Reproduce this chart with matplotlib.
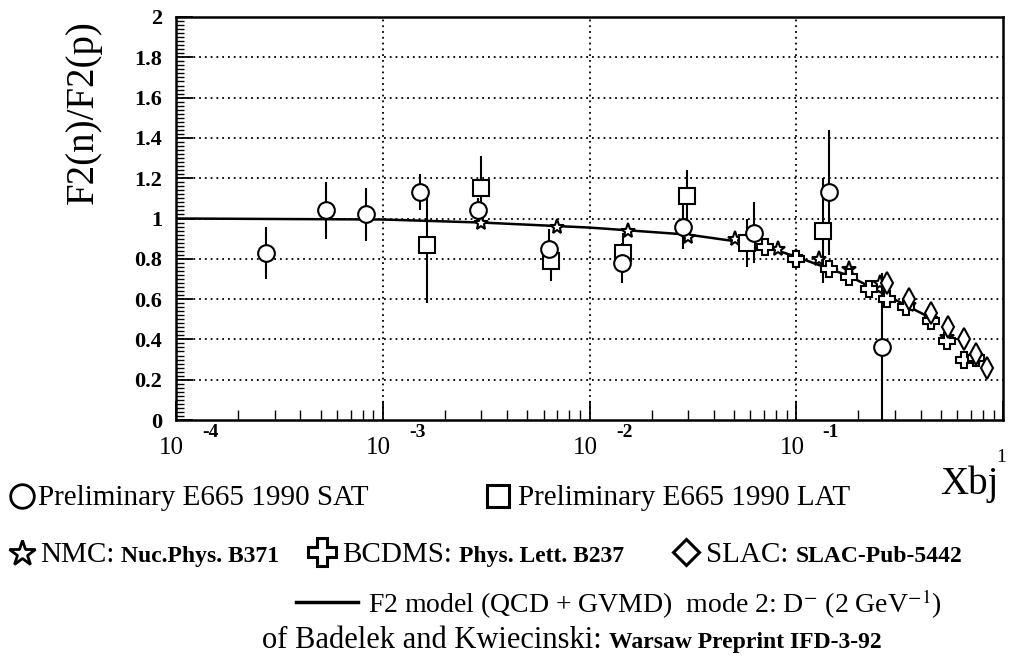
import numpy as np
import matplotlib
matplotlib.use("Agg")
import matplotlib.pyplot as plt
from matplotlib.ticker import FixedLocator, NullFormatter

plt.rcParams['font.family'] = ['Liberation Serif', 'DejaVu Serif']
plt.rcParams['mathtext.fontset'] = 'stix'

# ---------------- data ----------------
sat_x = [2.72e-4, 5.3e-4, 8.3e-4, 1.51e-3, 2.88e-3, 6.4e-3, 1.43e-2, 2.84e-2, 6.26e-2, 0.144, 0.26]
sat_y = [0.83, 1.04, 1.02, 1.13, 1.04, 0.85, 0.78, 0.96, 0.93, 1.13, 0.36]
sat_err = [0.13, 0.14, 0.13, 0.09, 0.06, 0.10, 0.10, 0.11, 0.15, 0.31, 0.37]

lat_x = [1.63e-3, 3.0e-3, 6.5e-3, 1.46e-2, 2.97e-2, 5.8e-2, 0.134]
lat_y = [0.87, 1.15, 0.79, 0.83, 1.11, 0.88, 0.94]
lat_err = [0.29, 0.16, 0.10, 0.10, 0.13, 0.12, 0.26]

nmc_x = [3.0e-3, 7.0e-3, 1.53e-2, 3.0e-2, 5.07e-2, 8.2e-2, 0.1, 0.129, 0.18, 0.255, 0.35, 0.45, 0.536, 0.74]
nmc_y = [0.98, 0.96, 0.94, 0.91, 0.90, 0.85, 0.81, 0.80, 0.75, 0.68, 0.57, 0.50, 0.41, 0.32]

bcdms_x = [0.0707, 0.1, 0.144, 0.18, 0.225, 0.276, 0.34, 0.45, 0.536, 0.65, 0.74]
bcdms_y = [0.86, 0.80, 0.75, 0.71, 0.65, 0.60, 0.56, 0.49, 0.39, 0.30, 0.31]

slac_x = [0.276, 0.35, 0.45, 0.54, 0.65, 0.74, 0.84]
slac_y = [0.68, 0.60, 0.53, 0.46, 0.40, 0.33, 0.26]

model_x = [1e-4, 1e-3, 3e-3, 1e-2, 3e-2, 0.0666, 0.1, 0.18, 0.26, 0.44]
model_y = [1.00, 0.995, 0.98, 0.955, 0.92, 0.87, 0.81, 0.715, 0.63, 0.51]

xtick_exps = ['-4', '-3', '-2', '-1']
xtick_vals = [1e-4, 1e-3, 1e-2, 1e-1]
yticks = [0, 0.2, 0.4, 0.6, 0.8, 1, 1.2, 1.4, 1.6, 1.8, 2]
ytick_labels = ['0', '0.2', '0.4', '0.6', '0.8', '1', '1.2', '1.4', '1.6', '1.8', '2']

# ---------------- figure ----------------
W, H = 1009, 662
fig = plt.figure(figsize=(W / 100, H / 100), dpi=100)
L, R, T, B = 176, 1003, 17, 420
ax = fig.add_axes([L / W, 1 - B / H, (R - L) / W, (B - T) / H])
ax.set_xscale('log')
ax.set_xlim(1e-4, 1)
ax.set_ylim(0, 2)

for s in ax.spines.values():
    s.set_linewidth(1.8)

# grid
grid_kw = dict(color='black', lw=1.3, ls=(0, (1, 2.2)), zorder=1)
for yv in yticks[1:-1]:
    ax.axhline(yv, **grid_kw)
for xv in [1e-3, 1e-2, 1e-1]:
    ax.axvline(xv, **grid_kw)

# ticks
ax.yaxis.set_major_locator(FixedLocator(yticks))
ax.set_yticklabels(ytick_labels, fontsize=16, fontweight='bold')
ax.yaxis.set_minor_locator(FixedLocator(np.arange(0, 2.001, 0.02)))
ax.tick_params(axis='y', which='major', direction='in', length=12, width=1.3, pad=10)
ax.tick_params(axis='y', which='minor', direction='in', length=6, width=1.0)
ax.xaxis.set_major_locator(FixedLocator(xtick_vals + [1]))
ax.xaxis.set_major_formatter(NullFormatter())
ax.xaxis.set_minor_formatter(NullFormatter())
minor = [m * 10.0 ** e for e in range(-4, 0) for m in range(2, 10)]
ax.xaxis.set_minor_locator(FixedLocator(minor))
ax.tick_params(axis='x', which='major', direction='in', length=14, width=1.3)
ax.tick_params(axis='x', which='minor', direction='in', length=7, width=1.0)
ax.tick_params(top=False, right=False)

# x tick labels "10" with exponent
xt = ax.get_xaxis_transform()
for xv, ex in zip(xtick_vals, xtick_exps):
    ax.annotate('10', (xv, 0), xycoords=xt, xytext=(-3, -20), textcoords='offset points',
                ha='center', va='center', fontsize=18, annotation_clip=False)
    ax.annotate(ex, (xv, 0), xycoords=xt, xytext=(19, -9), textcoords='offset points',
                ha='left', va='center', fontsize=14, fontweight='bold', annotation_clip=False)

# model
ax.plot(model_x, model_y, color='black', lw=1.8, zorder=3)

# error bars
ax.errorbar(sat_x, sat_y, yerr=sat_err, fmt='none', ecolor='black', elinewidth=1.5, capsize=0, zorder=2)
ax.errorbar(lat_x, lat_y, yerr=lat_err, fmt='none', ecolor='black', elinewidth=1.5, capsize=0, zorder=2)

mk = dict(ls='none', mfc='white', mec='black', mew=1.5, zorder=4)
ax.plot(nmc_x, nmc_y, marker='*', ms=11, **mk)
ax.plot(bcdms_x, bcdms_y, marker='P', ms=11, **mk)
ax.plot(slac_x, slac_y, marker='d', ms=11, **mk)
ax.plot(lat_x, lat_y, marker='s', ms=11, **mk)
ax.plot(sat_x, sat_y, marker='o', ms=12, **mk)

# ---------------- overlay (labels/legend area in pixel coords) ----------------
ov = fig.add_axes([0, 0, 1, 1], facecolor='none')
ov.set_xlim(0, W)
ov.set_ylim(H, 0)
ov.axis('off')

ov.text(83, 112, 'F2(n)/F2(p)', fontsize=28, rotation=90, ha='center', va='center')

ov.text(940, 494, 'Xbj', fontsize=28, ha='left', va='baseline')
ov.text(1001, 458, '1', fontsize=14, ha='center', va='center')

big = 21
small = 17
renderer = fig.canvas.get_renderer()


def pair(x, y, t1, t2, size1=big, gap=7):
    a = ov.text(x, y, t1, fontsize=size1, ha='left', va='baseline')
    bb = a.get_window_extent(renderer)
    xend = ov.transData.inverted().transform((bb.x1, bb.y0))[0]
    ov.text(xend + gap, y, t2, fontsize=small, fontweight='bold', ha='left', va='baseline')


ov.plot([22], [496], marker='o', ms=17, mfc='white', mec='black', mew=2)
ov.text(38, 505, 'Preliminary E665 1990 SAT', fontsize=big, ha='left', va='baseline')
ov.plot([498], [496], marker='s', ms=16, mfc='white', mec='black', mew=2.2)
ov.text(518, 505, 'Preliminary E665 1990 LAT', fontsize=big, ha='left', va='baseline')

ov.plot([22], [553], marker='*', ms=19, mfc='white', mec='black', mew=2)
pair(40, 562, 'NMC:', 'Nuc.Phys. B371')
ov.plot([322], [552], marker='P', ms=20, mfc='white', mec='black', mew=2.2)
pair(342, 562, 'BCDMS:', 'Phys. Lett. B237')
ov.plot([686], [552], marker='D', ms=13, mfc='white', mec='black', mew=2.2)
pair(706, 562, 'SLAC:', 'SLAC-Pub-5442')

ov.plot([296, 358], [602, 602], color='black', lw=2.5)
ov.text(368, 613, r'F2 model (QCD + GVMD)  mode 2: D$^{-}$ (2 GeV$^{-1}$)', fontsize=20,
        ha='left', va='baseline')
pair(262, 648, 'of Badelek and Kwiecinski:', 'Warsaw Preprint IFD-3-92', size1=22)

fig.savefig('out.png', dpi=100)
